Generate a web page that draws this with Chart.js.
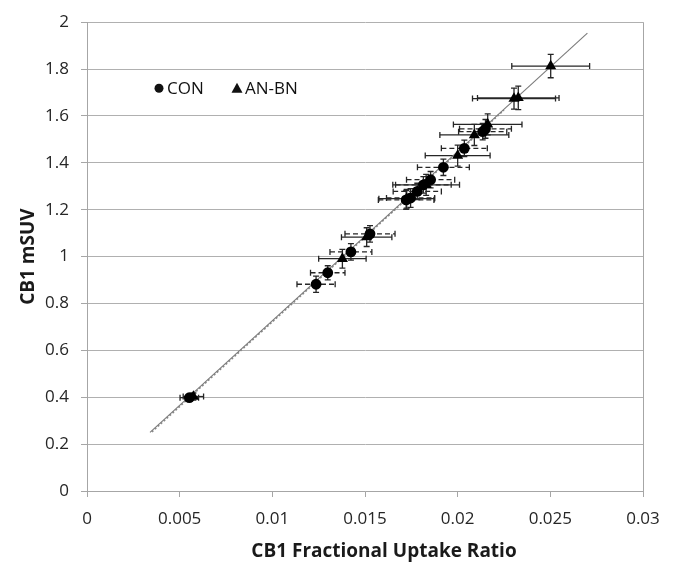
<!DOCTYPE html>
<html><head><meta charset="utf-8">
<script src="https://cdn.jsdelivr.net/npm/chart.js@4"></script>
<style>html,body{margin:0;padding:0;background:#fff}#wrap{width:674px;height:564px;position:relative}</style>
</head><body><div id="wrap"><canvas id="c"></canvas></div>
<script>
// CON (circles)
const conX    = [0.00552,0.01236,0.01299,0.01424,0.01527,0.01722,0.01746,0.01782,0.01815,0.01854,0.01923,0.02036,0.02135,0.02150];
const conY    = [0.398,0.882,0.931,1.020,1.097,1.242,1.250,1.278,1.306,1.328,1.381,1.462,1.533,1.545];
const conXErr = [0.00050,0.00103,0.00093,0.00113,0.00135,0.00150,0.00130,0.00130,0.00150,0.00130,0.00140,0.00124,0.00130,0.00140];
const conYErr = [0.012,0.035,0.030,0.035,0.035,0.040,0.040,0.035,0.035,0.035,0.035,0.035,0.035,0.040];
// AN-BN (triangles)
const anX    = [0.00574,0.01378,0.01509,0.01725,0.01830,0.02000,0.02090,0.02162,0.02304,0.02327,0.02502];
const anY    = [0.403,0.991,1.083,1.247,1.306,1.431,1.519,1.564,1.674,1.677,1.813];
const anXErr = [0.00055,0.00128,0.00136,0.00150,0.00180,0.00175,0.00186,0.00185,0.00224,0.00220,0.00210];
const anYErr = [0.015,0.040,0.040,0.040,0.045,0.045,0.045,0.045,0.045,0.050,0.050];
// trend lines
const anLineX  = [0.0034, 0.0270];
const anLineY  = [0.250, 1.953];
const conLineX = [0.0035, 0.0225];
const conLineY = [0.252, 1.625];
// ticks and titles
const xTickLabels = ['0','0.005','0.01','0.015','0.02','0.025','0.03'];
const yTickLabels = ['0','0.2','0.4','0.6','0.8','1','1.2','1.4','1.6','1.8','2'];
const xTitle = 'CB1 Fractional Uptake Ratio';
const yTitle = 'CB1 mSUV';

const zip = (xs, ys) => xs.map((x, i) => ({x, y: ys[i]}));
const FONT = "'Open Sans', sans-serif";

const errorBars = {
  id: 'errorBars',
  beforeDatasetsDraw(chart) {
    const ctx = chart.ctx, xs = chart.scales.x, ys = chart.scales.y;
    chart.data.datasets.forEach(ds => {
      if (!ds.xErr) return;
      ds.data.forEach((p, i) => {
        const px = xs.getPixelForValue(p.x), py = ys.getPixelForValue(p.y);
        const x0 = xs.getPixelForValue(p.x - ds.xErr[i]), x1 = xs.getPixelForValue(p.x + ds.xErr[i]);
        const y0 = ys.getPixelForValue(p.y - ds.yErr[i]), y1 = ys.getPixelForValue(p.y + ds.yErr[i]);
        ctx.save();
        ctx.strokeStyle = '#262626';
        ctx.lineWidth = 1.3;
        ctx.setLineDash(ds.errDash);
        ctx.beginPath(); ctx.moveTo(x0, py); ctx.lineTo(x1, py); ctx.stroke();
        ctx.setLineDash([]);
        ctx.beginPath();
        ctx.moveTo(x0, py - 3); ctx.lineTo(x0, py + 3);
        ctx.moveTo(x1, py - 3); ctx.lineTo(x1, py + 3);
        ctx.moveTo(px, y0); ctx.lineTo(px, y1);
        ctx.moveTo(px - 3, y0); ctx.lineTo(px + 3, y0);
        ctx.moveTo(px - 3, y1); ctx.lineTo(px + 3, y1);
        ctx.stroke();
        ctx.restore();
      });
    });
  }
};

const textPlugin = {
  id: 'texts',
  afterDraw(chart) {
    const ctx = chart.ctx, a = chart.chartArea;
    ctx.save();
    // legend inside plot
    ctx.fillStyle = '#111';
    ctx.font = "17px " + FONT;
    ctx.textBaseline = 'middle';
    const ly = a.top + 66;
    ctx.beginPath(); ctx.arc(a.left + 72, ly, 4.5, 0, Math.PI * 2); ctx.fill();
    ctx.fillText(chart.data.datasets[0].label, a.left + 80, ly + 1);
    const tx = a.left + 150;
    ctx.beginPath();
    ctx.moveTo(tx, ly - 5.5); ctx.lineTo(tx + 5.5, ly + 4.5); ctx.lineTo(tx - 5.5, ly + 4.5); ctx.closePath(); ctx.fill();
    ctx.fillText(chart.data.datasets[1].label, tx + 8, ly + 1);
    // x axis title
    ctx.fillStyle = '#1a1a1a';
    ctx.font = "bold 19px " + FONT;
    ctx.textAlign = 'center';
    ctx.fillText(xTitle, 384, 552);
    ctx.restore();
  }
};

new Chart(document.getElementById('c'), {
  type: 'scatter',
  data: {
    datasets: [
      { label: 'CON', data: zip(conX, conY), xErr: conXErr, yErr: conYErr, errDash: [5, 3],
        pointStyle: 'circle', pointRadius: 5.4, pointBackgroundColor: '#000', pointBorderColor: '#000', pointBorderWidth: 0, order: 2 },
      { label: 'AN-BN', data: zip(anX, anY), xErr: anXErr, yErr: anYErr, errDash: [],
        pointStyle: 'triangle', pointRadius: 6.4, pointBackgroundColor: '#000', pointBorderColor: '#000', pointBorderWidth: 0, order: 1 },
      { label: 'AN-BN fit', type: 'line', data: zip(anLineX, anLineY), showLine: true, pointRadius: 0,
        borderColor: '#7a7a7a', borderWidth: 1.1, fill: false, order: 3 },
      { label: 'CON fit', type: 'line', data: zip(conLineX, conLineY), showLine: true, pointRadius: 0,
        borderColor: '#8a8a8a', borderWidth: 1.6, borderDash: [2, 2], fill: false, order: 4 }
    ]
  },
  options: {
    responsive: true, maintainAspectRatio: false, animation: false, devicePixelRatio: 1,
    layout: { padding: { left: 0, top: 20, right: 31, bottom: 0 } },
    plugins: { legend: { display: false }, tooltip: { enabled: false } },
    scales: {
      x: {
        type: 'linear', min: 0, max: 0.03,
        afterBuildTicks: s => { s.ticks = xTickLabels.map(t => ({ value: parseFloat(t) })); },
        afterFit: s => { s.height = 73; },
        ticks: { callback: (v, i) => xTickLabels[i], padding: 12, color: '#262626', font: { size: 17, family: FONT }, maxRotation: 0 },
        grid: { drawOnChartArea: true, color: c => c.index === 6 ? '#a6a6a6' : 'rgba(0,0,0,0)', tickColor: '#a6a6a6', tickLength: 6 },
        border: { display: true, color: '#a6a6a6' },
        title: { display: false }
      },
      y: {
        type: 'linear', min: 0, max: 2,
        afterBuildTicks: s => { s.ticks = yTickLabels.map(t => ({ value: parseFloat(t) })); },
        afterFit: s => { s.width = 87; },
        ticks: { callback: (v, i) => yTickLabels[i], padding: 12, color: '#262626', font: { size: 17, family: FONT } },
        grid: { color: '#b0b0b0', tickColor: '#a6a6a6', tickLength: 6 },
        border: { display: true, color: '#a6a6a6' },
        title: { display: true, text: yTitle, color: '#1a1a1a', font: { size: 19, weight: 'bold', family: FONT }, padding: { top: 17, bottom: 0 } }
      }
    }
  },
  plugins: [errorBars, textPlugin]
});
</script>
</body></html>
